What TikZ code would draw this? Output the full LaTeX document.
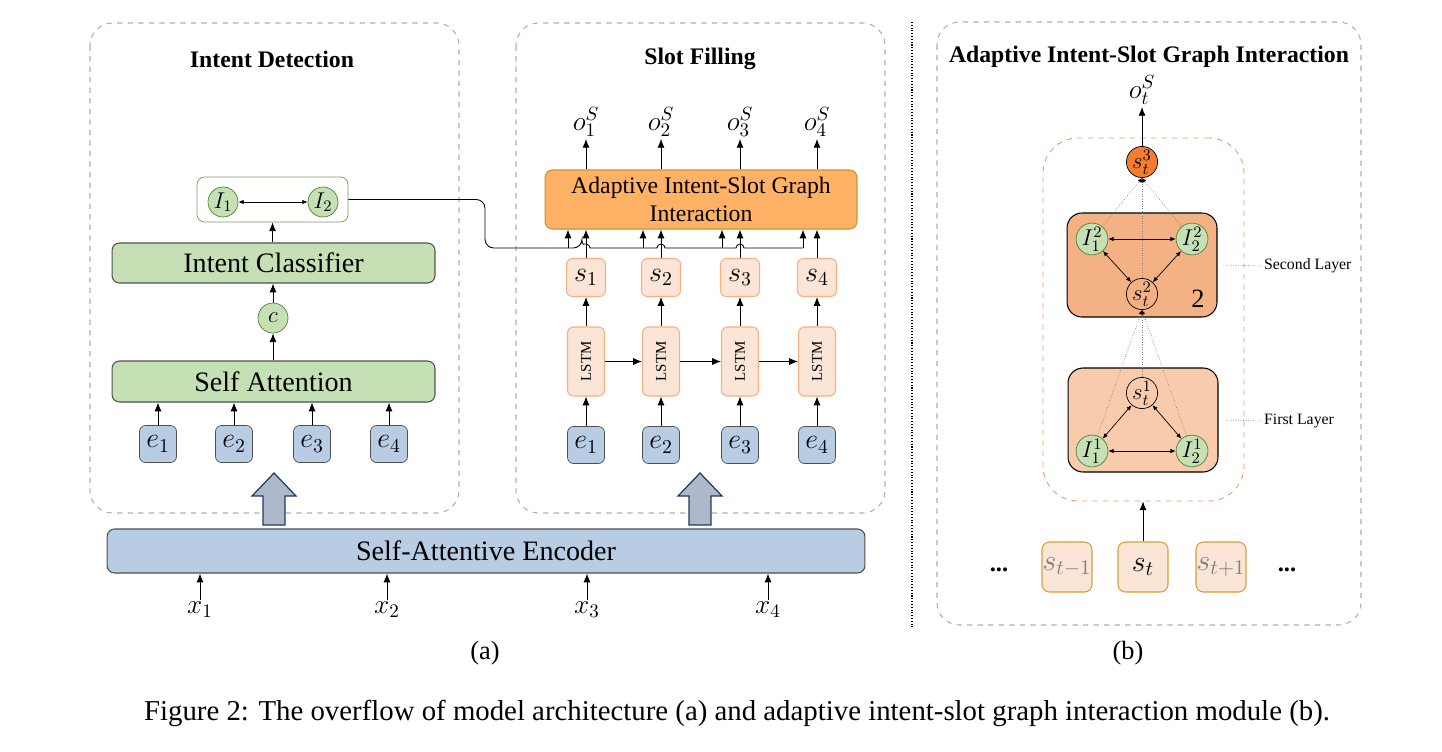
\RequirePackage{fix-cm}
\documentclass[tikz,border=0pt]{standalone}
\usepackage{fontspec}
\setmainfont{Liberation Serif}
\usetikzlibrary{arrows.meta}

\definecolor{panelgray}{RGB}{175,175,175}
\definecolor{lgreen}{RGB}{197,224,180}
\definecolor{dgreen}{RGB}{84,130,53}
\definecolor{boxgray}{RGB}{80,80,80}
\definecolor{lblue}{RGB}{184,204,228}
\definecolor{arrowblue}{RGB}{173,185,202}
\definecolor{navy}{RGB}{32,56,100}
\definecolor{pale}{RGB}{251,229,214}
\definecolor{lorange}{RGB}{244,177,131}
\definecolor{adaptfill}{RGB}{255,178,102}
\definecolor{adaptline}{RGB}{205,145,40}
\definecolor{deeporange}{RGB}{244,125,50}
\definecolor{secondfill}{RGB}{244,177,131}
\definecolor{firstfill}{RGB}{248,203,173}
\definecolor{gold}{RGB}{214,160,60}
\definecolor{dashorange}{RGB}{240,150,100}

\tikzset{
  panel/.style={draw=panelgray, dashed, rounded corners=0.45cm, line width=0.6pt},
  paneltitle/.style={font=\fontsize{13.5}{16}\selectfont\bfseries},
  greenbox/.style={draw=boxgray, fill=lgreen, rounded corners=0.15cm, minimum width=6.46cm, font=\fontsize{16}{19}\selectfont, line width=0.6pt},
  gcirc/.style={circle, draw=dgreen, fill=lgreen, minimum size=0.6cm, inner sep=0pt, font=\fontsize{13}{15}\selectfont},
  scirc/.style={circle, draw=black, minimum size=0.58cm, inner sep=0pt, font=\fontsize{13}{15}\selectfont},
  ebox/.style={draw=boxgray, fill=lblue, rounded corners=0.12cm, minimum size=0.74cm, inner sep=0pt, font=\fontsize{16}{18}\selectfont},
  lstmbox/.style={draw=lorange, fill=pale, rounded corners=0.12cm, minimum width=0.74cm, minimum height=1.38cm, inner sep=0pt, font=\fontsize{8.5}{10}\selectfont, line width=0.6pt},
  sbox/.style={draw=lorange, fill=pale, rounded corners=0.12cm, minimum width=0.78cm, minimum height=0.76cm, inner sep=0pt, font=\fontsize{16}{18}\selectfont, line width=0.6pt},
  bbox/.style={draw=gold, fill=pale, rounded corners=0.15cm, minimum size=1cm, inner sep=0pt, font=\fontsize{17}{19}\selectfont, line width=0.6pt},
  layerbox/.style={draw=black, rounded corners=0.3cm, minimum width=3cm, minimum height=2.08cm, line width=0.6pt},
  layertxt/.style={font=\fontsize{9}{11}\selectfont, inner sep=1pt},
  mathlbl/.style={font=\fontsize{15.5}{17}\selectfont, inner sep=1pt},
  arr/.style={-{Latex[length=5pt,width=4pt]}, line width=0.5pt},
  thinarr/.style={{Latex[length=3pt,width=2.5pt]}-{Latex[length=3pt,width=2.5pt]}, line width=0.4pt},
  dotarr/.style={densely dotted, draw=gray, line width=0.4pt, -{Latex[length=2.5pt,width=2pt,color=black]}},
  hollow/.style={draw=navy, fill=arrowblue, line width=0.7pt}
}

\begin{document}
\begin{tikzpicture}[x=0.02cm, y=-0.02cm]
\useasboundingbox (0,0) rectangle (1442,751);

% panels
\draw[panel] (90,23) rectangle (459,513);
\draw[panel] (516,23) rectangle (885,513);
\draw[panel] (937,22) rectangle (1361,625);
\draw[densely dotted, line width=0.6pt] (912,22) -- (912,628);
\node[paneltitle] (tid) at (272,59) {Intent Detection};
\node[paneltitle] (tsf) at (700,59) {Slot Filling};
\node[paneltitle] (tag) at (1149,57) {Adaptive Intent-Slot Graph Interaction};

% intent detection
\node[draw=dgreen!80, fill=white, rounded corners=0.15cm, minimum width=3.02cm, minimum height=0.9cm] (ibox) at (272.5,199.5) {};
\node[gcirc] (I1) at (223,202) {$I_1$};
\node[gcirc] (I2) at (323,202) {$I_2$};
\draw[thinarr] (I1) -- (I2);
\node[greenbox, minimum height=0.8cm] (icls) at (273.5,263) {Intent Classifier};
\node[gcirc] (c) at (273,318) {$c$};
\node[greenbox, minimum height=0.82cm] (satt) at (273.5,381.5) {Self Attention};
\draw[arr] (ibox.south |- icls.north) -- (ibox.south);
\draw[arr] (c.north) -- (c.north |- icls.south);
\draw[arr] (c.south |- satt.north) -- (c.south);
\foreach \x [count=\i] in {158,234,312,389} {
  \node[ebox] (ie\i) at (\x,444) {$e_\i$};
  \draw[arr] (ie\i.north) -- (ie\i.north |- satt.south);
}

% slot filling
\node[draw=adaptline, fill=adaptfill, rounded corners=0.15cm, minimum width=6.24cm, minimum height=1.18cm, align=center, font=\fontsize{13.5}{16}\selectfont, line width=0.6pt] (adapt) at (701,199.5) {Adaptive Intent-Slot Graph\\Interaction};
\foreach \x [count=\i] in {586,661,740,817} {
  \node[ebox] (se\i) at (\x,445) {$e_\i$};
  \node[lstmbox] (lstm\i) at (\x,361.5) {\rotatebox{90}{LSTM}};
  \node[sbox] (s\i) at (\x,277.5) {$s_\i$};
  \node[mathlbl] (o\i) at (\x,122) {$o_\i^S$};
  \draw[arr] (se\i) -- (lstm\i);
  \draw[arr] (lstm\i) -- (s\i);
  \draw[arr] (s\i) -- (s\i |- adapt.south);
  \draw[arr] (adapt.north -| o\i) -- (o\i);
}
\foreach \i/\j in {1/2,2/3,3/4}
  \draw[arr] (lstm\i) -- (lstm\j);

% intent to slot
\draw[line width=0.5pt] (ibox.east) [rounded corners=5pt] -- (485,199.5) -- (485,248) -- (582,248)
  [sharp corners] arc[start angle=180, end angle=0, radius=0.08cm] -- (657,248)
  arc[start angle=180, end angle=0, radius=0.08cm] -- (736,248)
  arc[start angle=180, end angle=0, radius=0.08cm] -- (803,248);
\foreach \x [count=\i] in {568,643,722,803} {
  \coordinate (bus\i) at (\x,248);
  \draw[arr] (bus\i) -- (bus\i |- adapt.south);
}

% encoder
\foreach \x in {274,700}
  \draw[hollow] (\x-11,525) -- (\x-11,496) -- (\x-22,496) -- (\x,473) -- (\x+22,496) -- (\x+11,496) -- (\x+11,525) -- cycle;
\node[draw=boxgray, fill=lblue, rounded corners=0.15cm, minimum width=15.16cm, minimum height=0.88cm, font=\fontsize{16}{19}\selectfont, line width=0.6pt] (enc) at (486,551) {Self-Attentive Encoder};
\foreach \x [count=\i] in {200,387,587,768} {
  \node[mathlbl] (x\i) at (\x,610) {$x_\i$};
  \draw[arr] (x\i.north) -- (x\i.north |- enc.south);
}

% graph interaction
\node[draw=dashorange, dashed, rounded corners=0.7cm, minimum width=4.02cm, minimum height=7.26cm, line width=0.5pt] (gbox) at (1143.5,319.5) {};
\node[layerbox, fill=secondfill] (l2) at (1142,265) {};
\node[layerbox, fill=firstfill] (l1) at (1143,420) {};
\node[scirc, fill=deeporange] (st3) at (1142,162) {$s_t^3$};
\node[mathlbl] (ot) at (1142,90) {$o_t^S$};
\draw[arr] (st3) -- (ot);
\node[gcirc] (I12) at (1092,239) {$I_1^2$};
\node[gcirc] (I22) at (1192,239) {$I_2^2$};
\node[scirc] (st2) at (1142,294) {$s_t^2$};
\node[scirc] (st1) at (1142,393) {$s_t^1$};
\node[gcirc] (I11) at (1092,451) {$I_1^1$};
\node[gcirc] (I21) at (1192,451) {$I_2^1$};
\foreach \a/\b in {I12/I22,I12/st2,I22/st2,I11/I21,I11/st1,I21/st1}
  \draw[thinarr] (\a) -- (\b);
\foreach \a in {I12,I22,st2}
  \draw[dotarr] (\a) -- (st3.south);
\foreach \a in {I11,I21,st1}
  \draw[dotarr] (\a) -- (st2.south);
\node[font=\fontsize{15}{18}\selectfont] (n2) at (1198,299) {2};
\node[layertxt, anchor=west] (lab2) at (1262,266) {Second Layer};
\node[layertxt, anchor=west] (lab1) at (1262,421) {First Layer};
\draw[densely dotted, gray] ([xshift=0.12cm]l2.east) -- (lab2.west);
\draw[densely dotted, gray] ([xshift=0.1cm]l1.east) -- (lab1.west);

\node[bbox] (sprev) at (1067,567) {\color{gray}$s_{t-1}$};
\node[bbox] (st) at (1143,567) {$s_t$};
\node[bbox] (snext) at (1221,567) {\color{gray}$s_{t+1}$};
\node[font=\fontsize{14}{16}\selectfont] (dl) at (999,570) {\textbf{...}};
\node[font=\fontsize{14}{16}\selectfont] (dr) at (1287,570) {\textbf{...}};
\draw[arr] (st.north) -- (st.north |- gbox.south);

% captions
\node[font=\fontsize{15}{18}\selectfont] (capa) at (485,653) {(a)};
\node[font=\fontsize{15}{18}\selectfont] (capb) at (1128,653) {(b)};
\node[font=\fontsize{16.4}{19}\selectfont] (cap) at (737,713) {Figure 2: The overflow of model architecture (a) and adaptive intent-slot graph interaction module (b).};
\end{tikzpicture}
\end{document}
